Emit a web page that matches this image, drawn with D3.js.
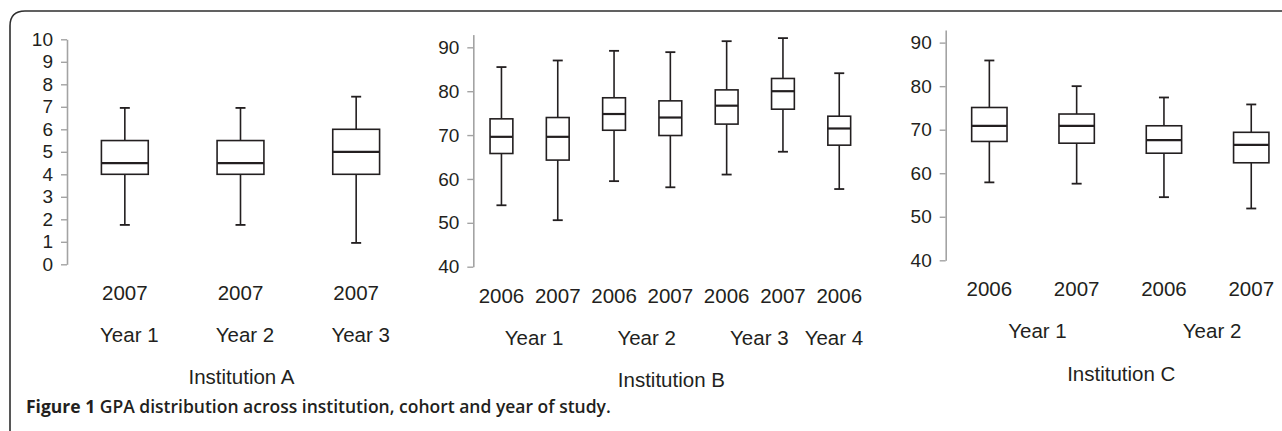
<!DOCTYPE html>
<html>
<head>
<meta charset="utf-8">
<script src="https://cdn.jsdelivr.net/npm/d3@7"></script>
<style>
  html, body { margin: 0; padding: 0; background: #fff; }
  svg { display: block; }
</style>
</head>
<body>
<svg id="chart" width="1282" height="431"></svg>
<script>
// ---------------- DATA ----------------
// Box stats per box: [min, q1, median, q3, max]
const statsA = [
  [1.75, 4.0, 4.5, 5.5, 6.95],
  [1.75, 4.0, 4.5, 5.5, 6.95],
  [0.95, 4.0, 5.0, 6.0, 7.45]
];
const cohortsA = ["2007", "2007", "2007"];
const yearsA = ["Year 1", "Year 2", "Year 3"];
const yearBoxesA = [[0], [1], [2]];
const ticksA = [0, 1, 2, 3, 4, 5, 6, 7, 8, 9, 10];

const statsB = [
  [54.0, 65.8, 69.6, 73.7, 85.5],
  [50.6, 64.3, 69.6, 74.0, 87.0],
  [59.5, 71.1, 74.8, 78.5, 89.2],
  [58.1, 69.9, 74.0, 77.8, 88.9],
  [61.0, 72.5, 76.7, 80.3, 91.4],
  [66.2, 75.9, 80.0, 82.9, 92.1],
  [57.7, 67.7, 71.5, 74.3, 84.1]
];
const cohortsB = ["2006", "2007", "2006", "2007", "2006", "2007", "2006"];
const yearsB = ["Year 1", "Year 2", "Year 3", "Year 4"];
const yearBoxesB = [[0, 1], [2, 3], [4, 5], [6]];
const ticksB = [40, 50, 60, 70, 80, 90];

const statsC = [
  [57.9, 67.3, 70.9, 75.1, 85.9],
  [57.6, 66.9, 70.9, 73.6, 80.0],
  [54.5, 64.6, 67.6, 70.9, 77.4],
  [51.9, 62.4, 66.5, 69.4, 75.8]
];
const cohortsC = ["2006", "2007", "2006", "2007"];
const yearsC = ["Year 1", "Year 2"];
const yearBoxesC = [[0, 1], [2, 3]];
const ticksC = [40, 50, 60, 70, 80, 90];

const institutions = ["Institution A", "Institution B", "Institution C"];
const captionBold = "Figure 1";
const captionText = " GPA distribution across institution, cohort and year of study.";

// ---------------- LAYOUT ----------------
const ink = "#231f20";
const axisGray = "#a3a3a3";
const chartFont = "'Liberation Sans', Arial, Helvetica, sans-serif";

const svg = d3.select("#chart");

// frame: rounded top-left corner, open at right/bottom
svg.append("path")
  .attr("d", "M10,431 L10,26 Q10,11 25,11 L1282,11")
  .attr("fill", "none")
  .attr("stroke", "#2e2e2e")
  .attr("stroke-width", 1.6);

const panels = [
  { stats: statsA, cohorts: cohortsA, years: yearsA, yearBoxes: yearBoxesA, ticks: ticksA,
    name: institutions[0], x0: 67, x1: 414, yDomain: [0, 10], yRange: [264.3, 39.3],
    cohortY: 293, yearY: 335, instY: 377 },
  { stats: statsB, cohorts: cohortsB, years: yearsB, yearBoxes: yearBoxesB, ticks: ticksB,
    name: institutions[1], x0: 473.3, x1: 867.4, yDomain: [40, 92.9], yRange: [266.7, 34.6],
    cohortY: 296, yearY: 338, instY: 380 },
  { stats: statsC, cohorts: cohortsC, years: yearsC, yearBoxes: yearBoxesC, ticks: ticksC,
    name: institutions[2], x0: 945.7, x1: 1294.9, yDomain: [40, 92.9], yRange: [260.3, 30],
    cohortY: 289, yearY: 331, instY: 374 }
];

panels.forEach(p => {
  const g = svg.append("g");
  const x = d3.scaleBand().domain(d3.range(p.stats.length)).range([p.x0, p.x1]).padding(0);
  const cx = i => x(i) + x.bandwidth() / 2;
  const y = d3.scaleLinear().domain(p.yDomain).range(p.yRange);
  const bw = x.bandwidth() * 0.405;
  const cap = 10;

  // axis
  const ax = g.append("g")
    .attr("transform", `translate(${p.x0},0)`)
    .call(d3.axisLeft(y).tickValues(p.ticks).tickSizeInner(6).tickSizeOuter(0).tickPadding(8).tickFormat(d3.format("d")));
  ax.select(".domain").attr("stroke", axisGray).attr("stroke-width", 1.6);
  ax.selectAll(".tick line").attr("stroke", axisGray).attr("stroke-width", 1.4);
  ax.selectAll(".tick text")
    .attr("fill", ink)
    .style("font-family", chartFont)
    .style("font-size", "19px");

  // boxes
  const box = g.selectAll(".box").data(p.stats).enter().append("g").attr("class", "box");
  // whiskers
  box.append("line")
    .attr("x1", (d, i) => cx(i)).attr("x2", (d, i) => cx(i))
    .attr("y1", d => y(d[0])).attr("y2", d => y(d[1]))
    .attr("stroke", ink).attr("stroke-width", 1.6);
  box.append("line")
    .attr("x1", (d, i) => cx(i)).attr("x2", (d, i) => cx(i))
    .attr("y1", d => y(d[3])).attr("y2", d => y(d[4]))
    .attr("stroke", ink).attr("stroke-width", 1.6);
  // caps
  box.append("line")
    .attr("x1", (d, i) => cx(i) - cap / 2).attr("x2", (d, i) => cx(i) + cap / 2)
    .attr("y1", d => y(d[0])).attr("y2", d => y(d[0]))
    .attr("stroke", ink).attr("stroke-width", 1.8);
  box.append("line")
    .attr("x1", (d, i) => cx(i) - cap / 2).attr("x2", (d, i) => cx(i) + cap / 2)
    .attr("y1", d => y(d[4])).attr("y2", d => y(d[4]))
    .attr("stroke", ink).attr("stroke-width", 1.8);
  // box
  box.append("rect")
    .attr("x", (d, i) => cx(i) - bw / 2)
    .attr("width", bw)
    .attr("y", d => y(d[3]))
    .attr("height", d => y(d[1]) - y(d[3]))
    .attr("fill", "#fff")
    .attr("stroke", ink).attr("stroke-width", 1.6);
  // median
  box.append("line")
    .attr("x1", (d, i) => cx(i) - bw / 2).attr("x2", (d, i) => cx(i) + bw / 2)
    .attr("y1", d => y(d[2])).attr("y2", d => y(d[2]))
    .attr("stroke", ink).attr("stroke-width", 2.2);

  const label = (sel) => sel
    .attr("dy", "0.36em")
    .attr("text-anchor", "middle")
    .attr("fill", ink)
    .style("font-family", chartFont)
    .style("font-size", "20.5px");

  // cohort labels
  g.selectAll(".cohort").data(p.cohorts).enter().append("text")
    .attr("x", (d, i) => cx(i))
    .attr("y", p.cohortY)
    .call(label)
    .text(d => d);

  // year labels (kept inside the panel's right edge)
  g.selectAll(".year").data(p.years).enter().append("text")
    .attr("x", (d, i) => Math.min(d3.mean(p.yearBoxes[i], cx) + 4.5, p.x1 - 33.5))
    .attr("y", p.yearY)
    .call(label)
    .text(d => d);

  // institution label
  g.append("text")
    .attr("x", (cx(0) + cx(p.stats.length - 1)) / 2 + 1)
    .attr("y", p.instY)
    .call(label)
    .text(p.name);
});

// caption
const capText = svg.append("text")
  .attr("x", 26).attr("y", 407).attr("dy", "0.36em")
  .attr("fill", ink)
  .style("font-family", "'Open Sans', 'Noto Sans', sans-serif")
  .style("font-size", "17.5px")
  .style("font-weight", 600);
capText.append("tspan").style("font-weight", 700).text(captionBold);
capText.append("tspan").text(captionText);
</script>
</body>
</html>
